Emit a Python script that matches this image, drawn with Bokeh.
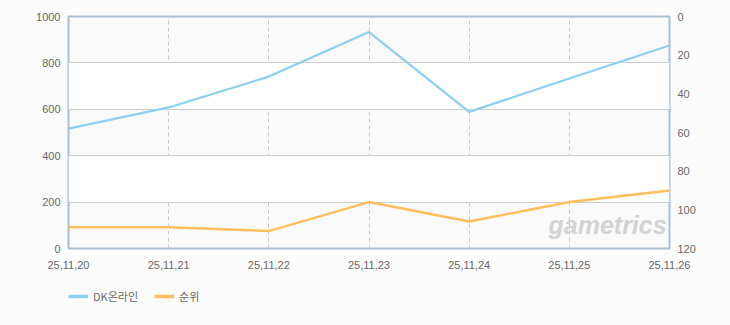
from bokeh.plotting import figure
from bokeh.models import Range1d, LinearAxis, FixedTicker, Legend, LegendItem, Label
from bokeh.layouts import column
from bokeh.embed import file_html
from bokeh.resources import INLINE

dates = ["25,11,20", "25,11,21", "25,11,22", "25,11,23", "25,11,24", "25,11,25", "25,11,26"]
players = [517, 608, 741, 933, 589, 733, 875]   # DK온라인 (left axis)
rank = [109, 109, 111, 96, 106, 96, 90]          # 순위 (right axis, inverted)
left_ticks = [0, 200, 400, 600, 800, 1000]
right_ticks = [0, 20, 40, 60, 80, 100, 120]
series_names = ["DK온라인", "순위"]
series_colors = ["#8ccff0", "#fdbf5e"]

xs = list(range(len(dates)))

p = figure(width=730, height=280, output_backend="svg", toolbar_location=None,
           x_range=Range1d(0, len(dates) - 1), y_range=Range1d(0, 1000),
           min_border_left=68, min_border_right=61, min_border_top=16, min_border_bottom=32)
p.extra_y_ranges = {"rank": Range1d(120, 0)}

p.background_fill_color = "#fafafa"
p.border_fill_color = "#fcfcfc"
p.outline_line_color = "#aabdd1"
p.outline_line_width = 2

label_font = "Liberation Sans"
txt_color = "#666666"

# left axis
p.yaxis.ticker = FixedTicker(ticks=left_ticks)
p.yaxis.axis_line_color = None
p.yaxis.major_tick_line_color = None
p.yaxis.minor_tick_line_color = None
p.yaxis.major_label_text_font = label_font
p.yaxis.major_label_text_font_size = "11px"
p.yaxis.major_label_text_color = txt_color
p.yaxis.major_label_standoff = 2

# bottom axis
p.xaxis.ticker = FixedTicker(ticks=xs)
p.xaxis.major_label_overrides = {i: d for i, d in zip(xs, dates)}
p.xaxis.axis_line_color = None
p.xaxis.major_tick_line_color = None
p.xaxis.minor_tick_line_color = None
p.xaxis.major_label_text_font = label_font
p.xaxis.major_label_text_font_size = "11px"
p.xaxis.major_label_text_color = txt_color
p.xaxis.major_label_standoff = 6

# right axis
ra = LinearAxis(y_range_name="rank", ticker=FixedTicker(ticks=right_ticks))
ra.axis_line_color = None
ra.major_tick_line_color = None
ra.minor_tick_line_color = None
ra.major_label_text_font = label_font
ra.major_label_text_font_size = "11px"
ra.major_label_text_color = txt_color
ra.major_label_standoff = 2
p.add_layout(ra, "right")

# grids
p.ygrid.grid_line_color = "#cccccc"
p.ygrid.band_fill_color = "#ffffff"
p.ygrid.band_fill_alpha = 1.0
p.xgrid.grid_line_color = "#c8c8c8"
p.xgrid.grid_line_dash = "4 3"

# watermark
p.add_layout(Label(x=480, y=10, x_units="screen", y_units="screen", text="gametrics",
                   text_font=label_font, text_font_style="bold italic",
                   text_font_size="25px", text_color="#d3d3d3"))

p.line(xs, players, line_color=series_colors[0], line_width=2.2)
p.line(xs, rank, line_color=series_colors[1], line_width=2.5, y_range_name="rank")

# legend strip below the chart (its sample lines lie outside its visible range)
lg = figure(width=730, height=45, output_backend="svg", toolbar_location=None,
            x_range=Range1d(0, 1), y_range=Range1d(0, 1),
            x_axis_location=None, y_axis_location=None,
            min_border_left=0, min_border_right=0, min_border_top=0, min_border_bottom=0)
lg.grid.visible = False
lg.outline_line_color = None
lg.background_fill_color = "#fcfcfc"
lg.border_fill_color = "#fcfcfc"
items = []
for name, col in zip(series_names, series_colors):
    r = lg.line([5, 6], [5, 6], line_color=col, line_width=3.5)
    items.append(LegendItem(label=name, renderers=[r]))
legend = Legend(items=items, orientation="horizontal", location=(0, 21),
                label_text_font="Noto Sans CJK KR", label_text_font_size="11px",
                label_text_color=txt_color, glyph_width=20, glyph_height=12,
                label_standoff=5, spacing=16, padding=0, margin=0,
                border_line_color=None, background_fill_alpha=0)
lg.add_layout(legend, "center")

layout = column(p, lg, spacing=0)
open("out.html", "w").write(file_html(layout, INLINE))
